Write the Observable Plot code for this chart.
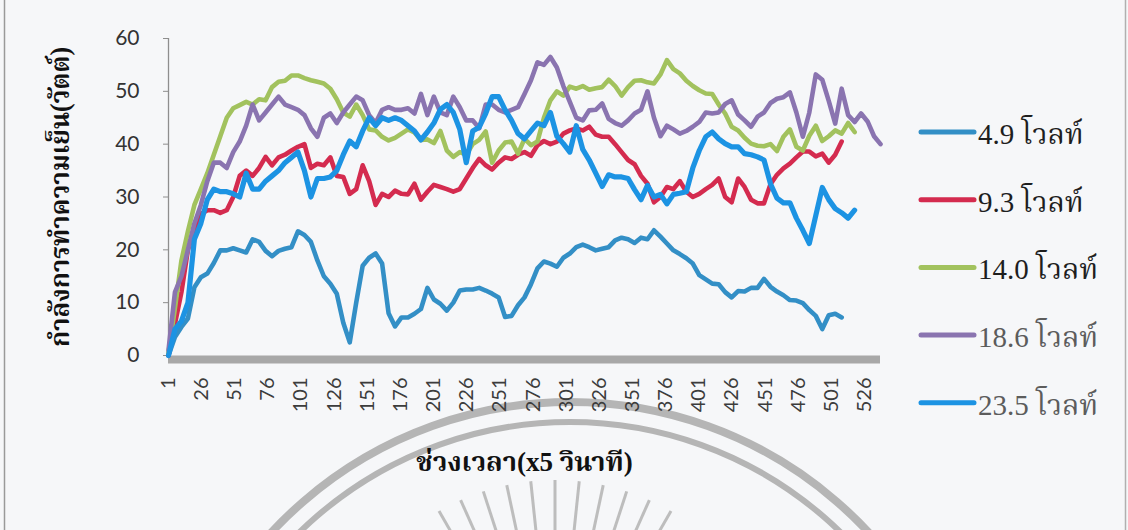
<!DOCTYPE html>
<html lang="th">
<head>
<meta charset="utf-8">
<script src="https://cdn.jsdelivr.net/npm/d3@7"></script>
<script src="https://cdn.jsdelivr.net/npm/@observablehq/plot@0.6"></script>
<style>
  html, body { margin: 0; padding: 0; background: #f6f7f9; }
  #chart { width: 1128px; height: 530px; position: relative; overflow: hidden; }
</style>
</head>
<body>
<div id="chart"></div>
<script>
// Time slots between two stored readings (readings were taken at an even spacing along the axis).
const step = 4.882;
// Number of time slots on the category axis.
const slotCount = 538;

// Cooling power (W) per series, one reading every `step` slots starting at slot 1.
const v49 = [0, 3.5, 5.4, 7, 12.9, 14.8, 15.5, 17.5, 19.9, 19.9, 20.3, 19.9, 19.5, 22, 21.5, 19.8, 18.8, 19.8, 20.2, 20.5,
  23.5, 22.8, 21.5, 18, 15, 13.6, 11.7, 6.2, 2.5, 10, 17, 18.5, 19.3, 17.4, 8, 5.5, 7.2, 7.2, 7.9, 8.8,
  12.8, 10.6, 9.8, 8.5, 10, 12.3, 12.5, 12.5, 12.8, 12.3, 11.7, 11, 7.3, 7.5, 9.5, 11, 13.5, 16.5, 17.8, 17.4,
  16.8, 18.5, 19.3, 20.5, 21, 20.5, 19.9, 20.2, 20.5, 21.8, 22.3, 22, 21.3, 22.3, 22, 23.7, 22.5, 21.2, 19.9, 19.2,
  18.4, 17.4, 15.2, 14.4, 13.6, 13.5, 12, 11, 12.2, 12.1, 12.8, 12.8, 14.5, 13, 12.1, 11.4, 10.5, 10.4, 9.9, 8.6,
  7.5, 5, 7.6, 7.9, 7.2];

const v93 = [0, 6, 12, 20, 24, 26.8, 27.5, 27.5, 27, 27.5, 30, 34, 35, 34, 35.5, 37.6, 36, 37.5, 38, 38.8,
  39.5, 40, 35.5, 36.3, 36, 37.5, 34, 33.8, 30.6, 31.5, 36, 33, 28.5, 30.6, 30, 31.2, 30.6, 30.5, 32.5, 29.5,
  31, 32.3, 31.9, 31.5, 31, 31.5, 33.5, 35.5, 37.2, 36, 35.2, 36.5, 37.5, 37.2, 38, 38.5, 37.8, 39.8, 40.6, 40,
  40.5, 42, 42.6, 43, 42.6, 43.3, 41.8, 41.4, 41.4, 40, 38.5, 37, 36.2, 34, 32.5, 29, 30, 31.9, 31.5, 33,
  31, 30, 30.6, 31.5, 32.3, 33.5, 30, 29, 33.5, 31.9, 29.5, 28.8, 28.8, 32.4, 34.2, 35.4, 36.3, 37.5, 38.6, 38.6,
  37.7, 38.2, 36.5, 38, 40.5];

const v140 = [0.5, 9, 18, 23.5, 28.5, 31.5, 34.5, 38, 41.5, 45, 46.8, 47.4, 48, 47.5, 48.5, 48.3, 50.8, 51.8, 52, 53,
  53, 52.5, 52.1, 51.8, 51.5, 50.5, 48.5, 46, 45.2, 47.5, 45.5, 42.8, 42.6, 41.4, 40.7, 41.2, 42, 42.8, 42.2, 40.8,
  40.9, 40.2, 42.5, 38.8, 37.6, 38.5, 38, 40, 40.8, 42.4, 36.5, 38.8, 40.3, 40.5, 38.2, 41, 39.8, 40.5, 45, 48.3,
  50, 49.2, 50.9, 50.5, 51, 50.3, 50.6, 50.8, 52.2, 51, 49.2, 50.8, 52, 52.1, 51.7, 51.5, 53.2, 55.9, 54.2, 53.4,
  52, 51, 50.2, 49.6, 49.5, 47.5, 45.8, 43.3, 42.6, 41.2, 40.1, 39.7, 39.6, 40, 38.7, 41.4, 42.8, 39.5, 38.8, 41.6,
  43.5, 40.6, 41.5, 42.6, 42, 44, 42.3];

const v186 = [1, 12, 15, 20, 25, 28.5, 33, 36.5, 36.5, 35.5, 38.5, 40.5, 43.5, 47.5, 44.5, 46, 47.5, 49, 47.5, 47,
  46.5, 45.5, 43, 41.4, 45, 45.8, 44, 46, 47.5, 49, 48.3, 45.5, 44, 46.5, 47, 46.5, 46.5, 46.8, 45.8, 49.5,
  45.5, 49, 46, 45.5, 49, 47, 44.5, 44.5, 43, 47.5, 47.5, 46.5, 46, 46.5, 47, 49.5, 52.1, 55.5, 55, 56.5,
  54.5, 51, 48, 45, 44.5, 46.4, 46.5, 47.7, 44.8, 44, 43.5, 44.5, 45.8, 46.5, 50, 45, 41.5, 43.5, 42.8, 42,
  42.5, 43.3, 44.2, 46, 45.8, 46, 47.6, 48.3, 45.6, 44.5, 43.3, 45.2, 46, 47.8, 48.6, 48.9, 49.8, 46, 41.4, 46,
  53.2, 52.2, 48.2, 43.9, 50.5, 45.5, 44.2, 45.8, 44.3, 41.5, 40];

const v235 = [0, 5, 6.5, 10, 22, 25, 29.5, 31.5, 31, 31, 30.6, 30, 34.5, 31.5, 31.5, 33, 34, 35, 36.5, 37.5,
  38.5, 35, 30, 33.5, 33.5, 33.8, 35, 38, 40.6, 39.5, 42.5, 45, 43.5, 45, 44.5, 45, 44.5, 43.5, 42.5, 40.8,
  42.3, 44, 46.6, 47.5, 46, 42.8, 36.5, 42.5, 43.2, 45.8, 49, 49, 46.5, 44.5, 42, 41, 42.5, 44, 43.5, 46,
  41.5, 40.1, 38.5, 43.5, 39, 37, 34.5, 32, 34.2, 33.8, 33.8, 33.5, 31.4, 29.5, 32.2, 30, 30.5, 28.7, 30.5, 30.7,
  31, 35.5, 38.8, 41.4, 42.3, 41, 40.1, 39.5, 39.5, 38.2, 38, 37.6, 37, 32.5, 29.8, 28.9, 28.9, 26, 23.7, 21.2,
  26.5, 31.8, 29.5, 27.8, 27, 26, 27.5];

const seriesNames = ["4.9 โวลท์", "9.3 โวลท์", "14.0 โวลท์", "18.6 โวลท์", "23.5 โวลท์"];
const seriesColors = ["#338fc6", "#d42b4f", "#a2c25e", "#8a74b0", "#1c93e3"];
const seriesWidths = [4.6, 4.6, 4.6, 4.6, 5.2];
const legendTextColors = ["#1e1e1e", "#1e1e1e", "#1e1e1e", "#5c5c5c", "#5c5c5c"];

const xTicks = [1, 26, 51, 76, 101, 126, 151, 176, 201, 226, 251, 276, 301, 326, 351, 376, 401, 426, 451, 476, 501, 526];
const yTicks = [0, 10, 20, 30, 40, 50, 60];
const xTitle = "ช่วงเวลา(x5 วินาที)";
const yTitle = "กำลังการทำความเย็น(วัตต์)";

const allSeries = [v49, v93, v140, v186, v235];
const slot = (d, i) => 1 + i * step;

const thaiFont = '"Liberation Serif", "Noto Serif Thai", "Noto Sans Thai", serif';

const chart = Plot.plot({
  width: 1128,
  height: 530,
  marginLeft: 168,
  marginRight: 248,
  marginTop: 38,
  marginBottom: 175,
  style: {background: "transparent", fontFamily: "Lato, 'Open Sans', sans-serif", color: "#333"},
  x: {domain: [1, slotCount], axis: null},
  y: {domain: [0, 60], axis: null},
  marks: [
    Plot.ruleX([1], {y1: 0, y2: 60, stroke: "#8e8e8e", strokeWidth: 1.3}),
    Plot.axisY({ticks: yTicks, tickSize: 5, tickPadding: 24, fontSize: 21, stroke: "#8e8e8e", fill: "#333", label: null}),
    Plot.axisX({ticks: xTicks, tickRotate: -90, tickSize: 0, tickPadding: 22, fontSize: 20, fill: "#3c3c3c", label: null}),
    Plot.ruleY([0], {x1: 1, x2: slotCount, stroke: "#a8a8a8", strokeWidth: 8, dy: 4}),
    ...allSeries.map((vals, k) => Plot.line(vals, {
      x: slot, y: d => d,
      stroke: seriesColors[k], strokeWidth: seriesWidths[k],
      strokeLinejoin: "round", strokeLinecap: "round"
    })),
    Plot.text([xTitle], {frameAnchor: "bottom", dy: 115, fontSize: 27, fontWeight: "bold", fill: "#111", fontFamily: thaiFont})
  ]
});

const svg = d3.select(chart);

// Faint seal printed behind the lower part of the page.
const seal = svg.insert("g", ":first-child").attr("fill", "none").attr("stroke", "#b5b5b5");
const sc = [570, 809];
seal.append("path").attr("stroke-width", 8)
  .attr("d", d3.arc()({innerRadius: 407, outerRadius: 407, startAngle: -Math.PI / 2.2, endAngle: Math.PI / 2.2}))
  .attr("transform", `translate(${sc})`);
seal.append("path").attr("stroke-width", 6)
  .attr("d", d3.arc()({innerRadius: 387, outerRadius: 387, startAngle: -Math.PI / 2.2, endAngle: Math.PI / 2.2}))
  .attr("transform", `translate(${sc})`);
const rayCenter = [555, 712];
d3.range(-30, 31, 6).forEach(a => {
  const r = a * Math.PI / 180;
  seal.append("line").attr("stroke-width", 3).attr("stroke", "#bdbdbd")
    .attr("x1", rayCenter[0] + 180 * Math.sin(r)).attr("y1", rayCenter[1] - 180 * Math.cos(r))
    .attr("x2", rayCenter[0] + 232 * Math.sin(r)).attr("y2", rayCenter[1] - 232 * Math.cos(r));
});

// Vertical axis title, centred on the plot height.
svg.append("text")
  .attr("transform", "translate(63,197) rotate(-90)")
  .attr("text-anchor", "middle").attr("dominant-baseline", "middle")
  .attr("font-family", thaiFont).attr("font-size", 27).attr("font-weight", "bold").attr("fill", "#111")
  .attr("textLength", 300).attr("lengthAdjust", "spacingAndGlyphs")
  .text(yTitle);

// Page frame edges.
svg.append("line").attr("x1", 4.5).attr("x2", 4.5).attr("y1", 0).attr("y2", 530).attr("stroke", "#9a9a9a").attr("stroke-width", 1.5);
svg.append("line").attr("x1", 1125.5).attr("x2", 1125.5).attr("y1", 0).attr("y2", 530).attr("stroke", "#b0b0b0").attr("stroke-width", 1.5);

// Legend on the right.
const legend = svg.append("g").attr("text-anchor", "start");
seriesNames.forEach((name, k) => {
  const y = 132 + k * 67.7;
  legend.append("line").attr("x1", 921).attr("x2", 974).attr("y1", y).attr("y2", y)
    .attr("stroke", seriesColors[k]).attr("stroke-width", 5).attr("stroke-linecap", "round");
  legend.append("text").attr("x", 978).attr("y", y + 12).text(name)
    .attr("font-family", thaiFont).attr("font-size", 29).attr("fill", legendTextColors[k]);
});

document.getElementById("chart").appendChild(chart);
</script>
</body>
</html>
